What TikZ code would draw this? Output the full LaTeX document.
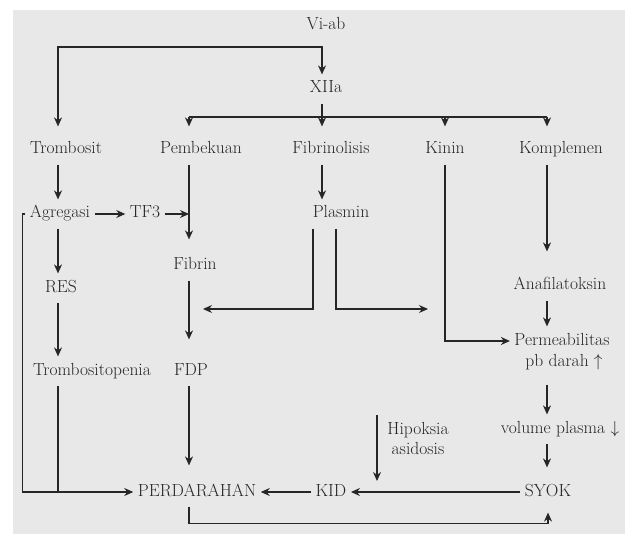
\documentclass[tikz,border=0pt]{standalone}
\usetikzlibrary{arrows.meta}

\definecolor{ink}{HTML}{262626}
\definecolor{paper}{HTML}{E8E8E8}

\tikzset{
  >={Stealth[length=9pt,width=8pt]},
  txt/.style={font=\fontsize{17.5}{20}\selectfont, inner xsep=4pt, inner ysep=6pt},
  lbl/.style={txt, text height=12pt, text depth=4pt, anchor=base},
}

\begin{document}
\begin{tikzpicture}[x=1pt,y=-1pt,line width=1.2pt,color=ink]
\useasboundingbox (0,0) rectangle (631,534);
\fill[white] (0,0) rectangle (631,534);
\fill[paper] (13,10) rectangle (625,534);

% labels
\node[lbl] (viab) at (326,30) {Vi-ab};
\node[lbl] (xiia) at (326,93) {XIIa};

\node[lbl] (trombosit) at (66,154) {Trombosit};
\node[lbl] (pembekuan) at (201,154) {Pembekuan};
\node[lbl] (fibrinolisis) at (331,154) {Fibrinolisis};
\node[lbl] (kinin) at (445,154) {Kinin};
\node[lbl] (komplemen) at (561,154) {Komplemen};

\node[lbl] (agregasi) at (60,218) {Agregasi};
\node[lbl] (tf3) at (145,218) {TF3};
\node[lbl] (plasmin) at (341,218) {Plasmin};
\node[lbl] (fibrin) at (195,270) {Fibrin};
\node[lbl] (res) at (61,292) {RES};
\node[lbl] (anafilatoksin) at (560,290) {Anafilatoksin};
\node[lbl] (permeab) at (562,345) {Permeabilitas};
\node[lbl] (pbdarah) at (564,366) {pb darah $\uparrow$};
\node[lbl] (trombositopenia) at (92,375) {Trombositopenia};
\node[lbl] (fdp) at (191,375) {FDP};
\node[lbl] (volume) at (560,433) {volume plasma $\downarrow$};
\node[txt, align=center] (hipoksia) at (418,438) {Hipoksia\\asidosis};

\node[lbl] (perdarahan) at (197,496) {PERDARAHAN};
\node[lbl] (kid) at (331,496) {KID};
\node[lbl] (syok) at (548,496) {SYOK};

% corners and free ends
\coordinate (jA) at (58,47);
\coordinate (jC) at (322,47);
\coordinate (jB) at (189,117);
\coordinate (jE) at (547,117);
\coordinate (fibsink) at (203,309);
\coordinate (kinsink) at (428,309);
\coordinate (kidline) at (377,481);

% Vi-ab and XIIa
\draw[<->, shorten <=9pt] (jA |- trombosit.north) -- (jA) -- (jC) -- (jC |- xiia.north);
\draw[->, shorten >=9pt] (xiia.south -| jC) -- (jC |- fibrinolisis.north);
\draw (jB) -- (jE);
\draw[->, shorten >=9pt] (jB) -- (jB |- pembekuan.north);
\draw[->, shorten >=9pt] (kinin.north |- jB) -- (kinin.north);
\draw[->, shorten >=9pt] (jE) -- (jE |- komplemen.north);

% trombosit
\draw[->] (trombosit.south -| jA) -- (agregasi.north -| jA);
\draw[->] (agregasi.south -| jA) -- (res.north -| jA);
\draw[->] (res.south -| jA) -- (trombositopenia.north -| jA);
\draw (trombositopenia.south -| jA) -- (jA |- perdarahan.west);
\draw[->] (agregasi.west) -- ++(-3,0) |- (perdarahan.west);
\draw[->] (agregasi) -- (tf3);
\draw[->] (tf3.east) -- (tf3.east -| jB);

% pembekuan
\draw[->, shorten >=12pt] (pembekuan.south -| jB) -- (fibrin.north -| jB);
\draw[->, shorten >=17pt] (fibrin.south -| jB) -- (fdp.north -| jB);
\draw[->, shorten >=12pt] (fdp.south -| jB) -- (perdarahan.north -| jB);
\draw[->, shorten >=6pt] (perdarahan.south -| jB) -- ++(0,17) -| (syok.south);

% fibrinolisis
\draw[->] (fibrinolisis.south -| jC) -- (plasmin.north -| jC);
\draw[->] ([xshift=-28pt]plasmin.south) |- (fibsink);
\draw[->] ([xshift=-5pt]plasmin.south) |- (kinsink);

% kinin, komplemen
\draw[->] (kinin.south) |- (permeab.west);
\draw[->, shorten >=20pt] (komplemen.south -| jE) -- (anafilatoksin.north -| jE);
\draw[->] (anafilatoksin.south -| jE) -- (permeab.north -| jE);
\draw[->, shorten <=8pt] (pbdarah.south -| jE) -- (volume.north -| jE);
\draw[->, shorten >=10pt] (volume.south -| jE) -- (syok.north -| jE);

% syok
\draw[->] (syok) -- (kid);
\draw[->] (kid) -- (perdarahan);
\draw[->] (hipoksia.north -| kidline) -- (kidline);
\end{tikzpicture}
\end{document}
